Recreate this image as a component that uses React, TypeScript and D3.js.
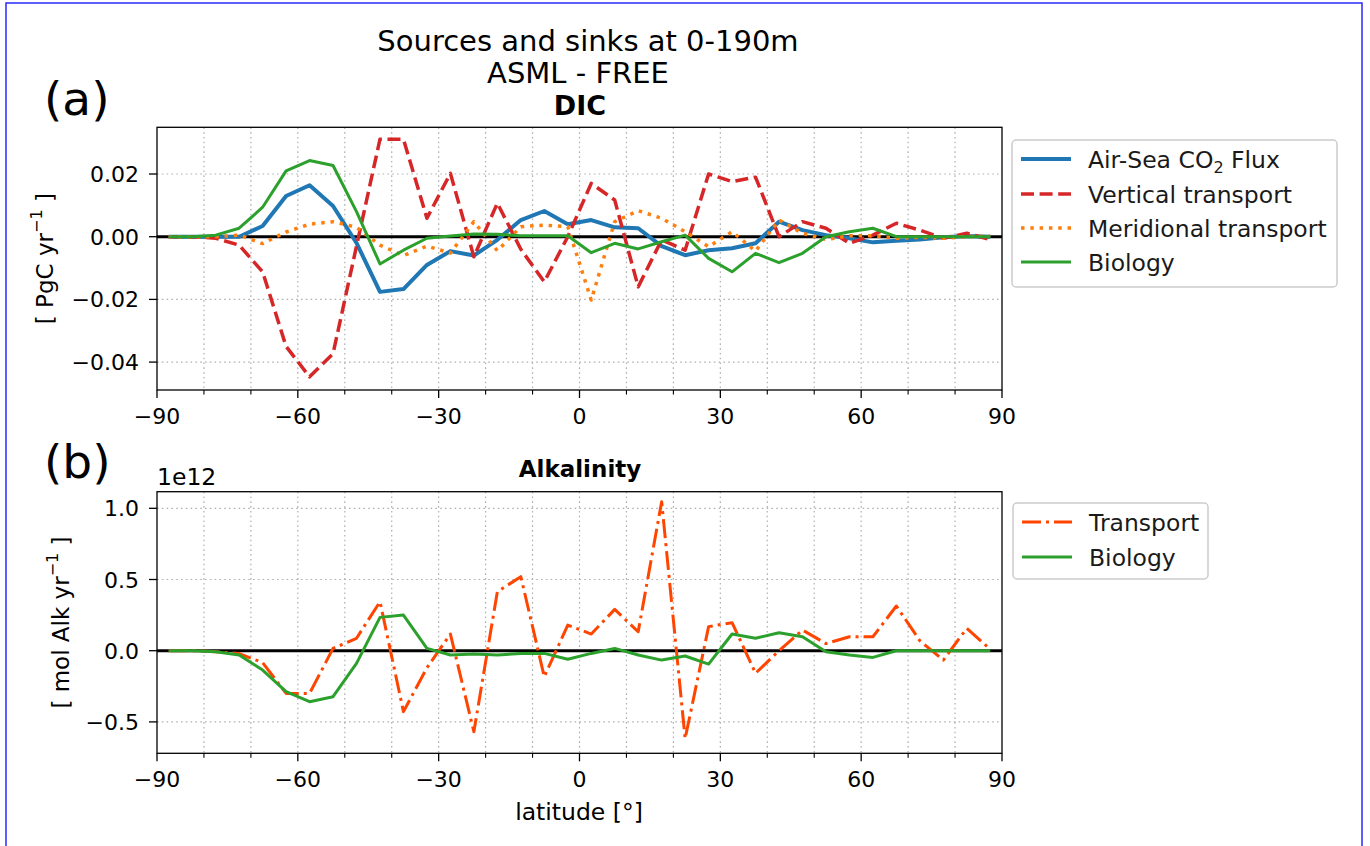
import React from "react";
import * as d3 from "d3";

// ---------- DATA ----------
const latitudes = [
  -87.5, -82.5, -77.5, -72.5, -67.5, -62.5, -57.5, -52.5, -47.5, -42.5, -37.5, -32.5,
  -27.5, -22.5, -17.5, -12.5, -7.5, -2.5, 2.5, 7.5, 12.5, 17.5, 22.5, 27.5,
  32.5, 37.5, 42.5, 47.5, 52.5, 57.5, 62.5, 67.5, 72.5, 77.5, 82.5, 87.5,
];

// Panel (a) DIC [PgC/yr]
const airSeaFlux = [
  0, 0, 0, 0, 0.0034, 0.013, 0.0164, 0.0098, -0.002, -0.0176, -0.0167, -0.009,
  -0.0046, -0.006, -0.001, 0.0053, 0.0082, 0.004, 0.0053, 0.003, 0.0027, -0.003, -0.0059, -0.0043,
  -0.0037, -0.0021, 0.0048, 0.0021, 0.0005, -0.0005, -0.0018, -0.0013, -0.0009, -0.0002, 0.0002, 0,
];
const verticalTransport = [
  0, 0, -0.0005, -0.0027, -0.0112, -0.035, -0.0447, -0.0373, -0.003, 0.0311, 0.0311, 0.0059,
  0.0202, -0.0064, 0.0107, -0.004, -0.0144, 0.0, 0.017, 0.0117, -0.016, -0.001, -0.0043, 0.02,
  0.0176, 0.019, 0.0, 0.0048, 0.0027, -0.0021, 0.0005, 0.0043, 0.0021, -0.0005, 0.0011, -0.0009,
];
const meridionalTransport = [
  0, 0, 0, 0.0005, -0.0022, 0.0015, 0.004, 0.0048, 0.003, -0.0027, -0.006, -0.003,
  -0.0052, 0.0048, -0.0045, 0.0032, 0.0037, 0.0032, -0.0202, 0.0048, 0.0083, 0.0059, 0.0016, -0.0032,
  0.0016, -0.0046, 0.0053, 0.0011, -0.0009, 0.0003, 0.0003, -0.0005, -0.0002, -0.0005, 0, 0.0002,
];
const biologyDIC = [
  0, 0, 0.0005, 0.0027, 0.0094, 0.021, 0.0243, 0.0227, 0.008, -0.0087, -0.0043, -0.0005,
  0.0002, 0.0009, 0.0008, 0.0003, 0.0003, 0.0003, -0.0051, -0.0021, -0.0039, -0.0016, 0.0005, -0.0069,
  -0.0112, -0.0053, -0.0083, -0.0053, 0, 0.0016, 0.0027, 0, 0, 0, 0, 0,
];

// Panel (b) Alkalinity [1e12 mol Alk/yr]
const alkTransport = [
  0, 0, -0.007, -0.02, -0.084, -0.3, -0.3, 0.016, 0.087, 0.344, -0.428, -0.12,
  0.117, -0.569, 0.414, 0.52, -0.183, 0.18, 0.117, 0.29, 0.133, 1.046, -0.617, 0.169,
  0.197, -0.159, 0.0, 0.145, 0.05, 0.098, 0.098, 0.314, 0.07, -0.066, 0.157, 0.01,
];
const alkBiology = [
  0, 0, -0.007, -0.03, -0.136, -0.288, -0.358, -0.323, -0.089, 0.234, 0.25, 0.016,
  -0.03, -0.023, -0.03, -0.019, -0.019, -0.06, -0.019, 0.016, -0.03, -0.066, -0.037, -0.094,
  0.117, 0.087, 0.126, 0.098, -0.007, -0.03, -0.047, 0, 0, 0, 0, 0,
];

const xMajorTicks = [-90, -60, -30, 0, 30, 60, 90];
const xMinorTicks = [-80, -70, -50, -40, -20, -10, 10, 20, 40, 50, 70, 80];
const xGridTicks = [-80, -70, -60, -50, -40, -30, -20, -10, 0, 10, 20, 30, 40, 50, 60, 70, 80];
const yTicksA = [-0.04, -0.02, 0.0, 0.02];
const yTicksB = [-0.5, 0.0, 0.5, 1.0];

// ---------- LAYOUT ----------
const FONT = "'DejaVu Sans', sans-serif";
const left = 157;
const right = 1002;
const panelA = { top: 127.3, bottom: 390 };
const panelB = { top: 491.7, bottom: 753.3 };

const x = d3.scaleLinear().domain([-90, 90]).range([left, right]);
const yA = d3.scaleLinear().domain([-0.0489, 0.0349]).range([panelA.bottom, panelA.top]);
const yB = d3.scaleLinear().domain([-0.7205, 1.1166]).range([panelB.bottom, panelB.top]);

const minus = (s: string) => s.replace("-", "\u2212");

type Series = { values: number[]; color: string; width: number; dash?: string; cap?: string };

function Panel({
  y,
  top,
  bottom,
  yTicks,
  fmt,
  series,
}: {
  y: d3.ScaleLinear<number, number>;
  top: number;
  bottom: number;
  yTicks: number[];
  fmt: (v: number) => string;
  series: Series[];
}) {
  const line = d3
    .line<number>()
    .x((_, i) => x(latitudes[i]))
    .y((d) => y(d));
  return (
    <g>
      {xGridTicks.map((t) => (
        <line key={"gx" + t} x1={x(t)} x2={x(t)} y1={top} y2={bottom} stroke="#b0b0b0" strokeWidth={1.2} strokeDasharray="1.6,3.2" />
      ))}
      {yTicks.map((t) => (
        <line key={"gy" + t} x1={left} x2={right} y1={y(t)} y2={y(t)} stroke="#b0b0b0" strokeWidth={1.2} strokeDasharray="1.6,3.2" />
      ))}
      <line x1={left} x2={right} y1={y(0)} y2={y(0)} stroke="#000" strokeWidth={3} />
      {series.map((s, i) => (
        <path
          key={i}
          d={line(s.values) || ""}
          fill="none"
          stroke={s.color}
          strokeWidth={s.width}
          strokeDasharray={s.dash}
          strokeLinejoin="round"
          strokeLinecap={(s.cap as any) || "butt"}
        />
      ))}
      <rect x={left} y={top} width={right - left} height={bottom - top} fill="none" stroke="#000" strokeWidth={1.3} />
      {xMajorTicks.map((t) => (
        <g key={"xt" + t}>
          <line x1={x(t)} x2={x(t)} y1={bottom} y2={bottom + 8} stroke="#000" strokeWidth={1.3} />
          <text x={x(t)} y={bottom + 34} textAnchor="middle" fontSize={22} fontFamily={FONT} fill="#000">
            {minus(String(t))}
          </text>
        </g>
      ))}
      {xMinorTicks.map((t) => (
        <line key={"xm" + t} x1={x(t)} x2={x(t)} y1={bottom} y2={bottom + 4.5} stroke="#000" strokeWidth={1.1} />
      ))}
      {yTicks.map((t) => (
        <g key={"yt" + t}>
          <line x1={left - 8} x2={left} y1={y(t)} y2={y(t)} stroke="#000" strokeWidth={1.3} />
          <text x={left - 18} y={y(t) + 8} textAnchor="end" fontSize={22} fontFamily={FONT} fill="#000">
            {minus(fmt(t))}
          </text>
        </g>
      ))}
    </g>
  );
}

function Legend({
  x0,
  y0,
  w,
  h,
  rows,
}: {
  x0: number;
  y0: number;
  w: number;
  h: number;
  rows: { y: number; label: React.ReactNode; color: string; width: number; dash?: string }[];
}) {
  return (
    <g>
      <rect x={x0} y={y0} width={w} height={h} rx={4} ry={4} fill="#fff" stroke="#cccccc" strokeWidth={1.5} />
      {rows.map((r, i) => (
        <g key={i}>
          <line x1={x0 + 9} x2={x0 + 59} y1={r.y} y2={r.y} stroke={r.color} strokeWidth={r.width} strokeDasharray={r.dash} />
          <text x={x0 + 76} y={r.y + 8.5} fontSize={23.5} fontFamily={FONT} fill="#1a1a1a">
            {r.label}
          </text>
        </g>
      ))}
    </g>
  );
}

export default function App() {
  const blue = "#1f77b4";
  const red = "#d62728";
  const orange = "#ff7f0e";
  const green = "#2ca02c";
  const orangered = "#ff4500";

  const dashed = "13,5.6";
  const dotted = "3.5,5.8";
  const dashdot = "19,5,3,5";

  return (
    <svg width={1370} height={846} style={{ position: "absolute", left: 0, top: 0, background: "#fff" }}>
      <rect x={0} y={0} width={1370} height={846} fill="#fff" />
      <rect x={6} y={3} width={1356} height={860} fill="none" stroke="#2a2aff" strokeWidth={1.5} />

      <text x={588} y={51} textAnchor="middle" fontSize={29} fontFamily={FONT} fill="#000">
        Sources and sinks at 0-190m
      </text>
      <text x={578} y={83} textAnchor="middle" fontSize={29} fontFamily={FONT} fill="#000">
        ASML - FREE
      </text>
      <text x={580} y={115} textAnchor="middle" fontSize={27} fontWeight="bold" fontFamily={FONT} fill="#000">
        DIC
      </text>
      <text x={44} y={115} fontSize={47} fontFamily={FONT} fill="#000">
        (a)
      </text>

      <Panel
        y={yA}
        top={panelA.top}
        bottom={panelA.bottom}
        yTicks={yTicksA}
        fmt={(v) => v.toFixed(2)}
        series={[
          { values: airSeaFlux, color: blue, width: 4 },
          { values: verticalTransport, color: red, width: 3.5, dash: dashed },
          { values: meridionalTransport, color: orange, width: 3.5, dash: dotted },
          { values: biologyDIC, color: green, width: 3 },
        ]}
      />
      <text
        transform={`translate(45,${(panelA.top + panelA.bottom) / 2}) rotate(-90)`}
        textAnchor="middle"
        dominantBaseline="central"
        fontSize={23}
        fontFamily={FONT}
        fill="#000"
      >
        [ PgC yr
        <tspan dy={-9} fontSize={16}>
          {"\u22121"}
        </tspan>
        <tspan dy={9}> ]</tspan>
      </text>

      <Legend
        x0={1012}
        y0={140}
        w={325}
        h={147}
        rows={[
          {
            y: 159,
            color: blue,
            width: 4,
            label: (
              <>
                Air-Sea CO
                <tspan dy={5} fontSize={16}>
                  2
                </tspan>
                <tspan dy={-5}> Flux</tspan>
              </>
            ),
          },
          { y: 194, color: red, width: 3.5, dash: "13,5.6", label: "Vertical transport" },
          { y: 228, color: orange, width: 3.5, dash: dotted, label: "Meridional transport" },
          { y: 262, color: green, width: 3, label: "Biology" },
        ]}
      />

      <text x={44} y={478} fontSize={47} fontFamily={FONT} fill="#000">
        (b)
      </text>
      <text x={580} y={477} textAnchor="middle" fontSize={23} fontWeight="bold" fontFamily={FONT} fill="#000">
        Alkalinity
      </text>
      <text x={157} y={485} fontSize={23.5} fontFamily={FONT} fill="#000">
        1e12
      </text>
      <Panel
        y={yB}
        top={panelB.top}
        bottom={panelB.bottom}
        yTicks={yTicksB}
        fmt={(v) => v.toFixed(1)}
        series={[
          { values: alkTransport, color: orangered, width: 3, dash: dashdot },
          { values: alkBiology, color: green, width: 3 },
        ]}
      />
      <text
        transform={`translate(61,${(panelB.top + panelB.bottom) / 2}) rotate(-90)`}
        textAnchor="middle"
        dominantBaseline="central"
        fontSize={23}
        fontFamily={FONT}
        fill="#000"
      >
        [ mol Alk yr
        <tspan dy={-9} fontSize={16}>
          {"\u22121"}
        </tspan>
        <tspan dy={9}> ]</tspan>
      </text>
      <text x={579} y={820} textAnchor="middle" fontSize={23.5} fontFamily={FONT} fill="#000">
        latitude [°]
      </text>

      <Legend
        x0={1013}
        y0={503}
        w={195}
        h={76}
        rows={[
          { y: 522, color: orangered, width: 3, dash: dashdot, label: "Transport" },
          { y: 557, color: green, width: 3, label: "Biology" },
        ]}
      />
    </svg>
  );
}
